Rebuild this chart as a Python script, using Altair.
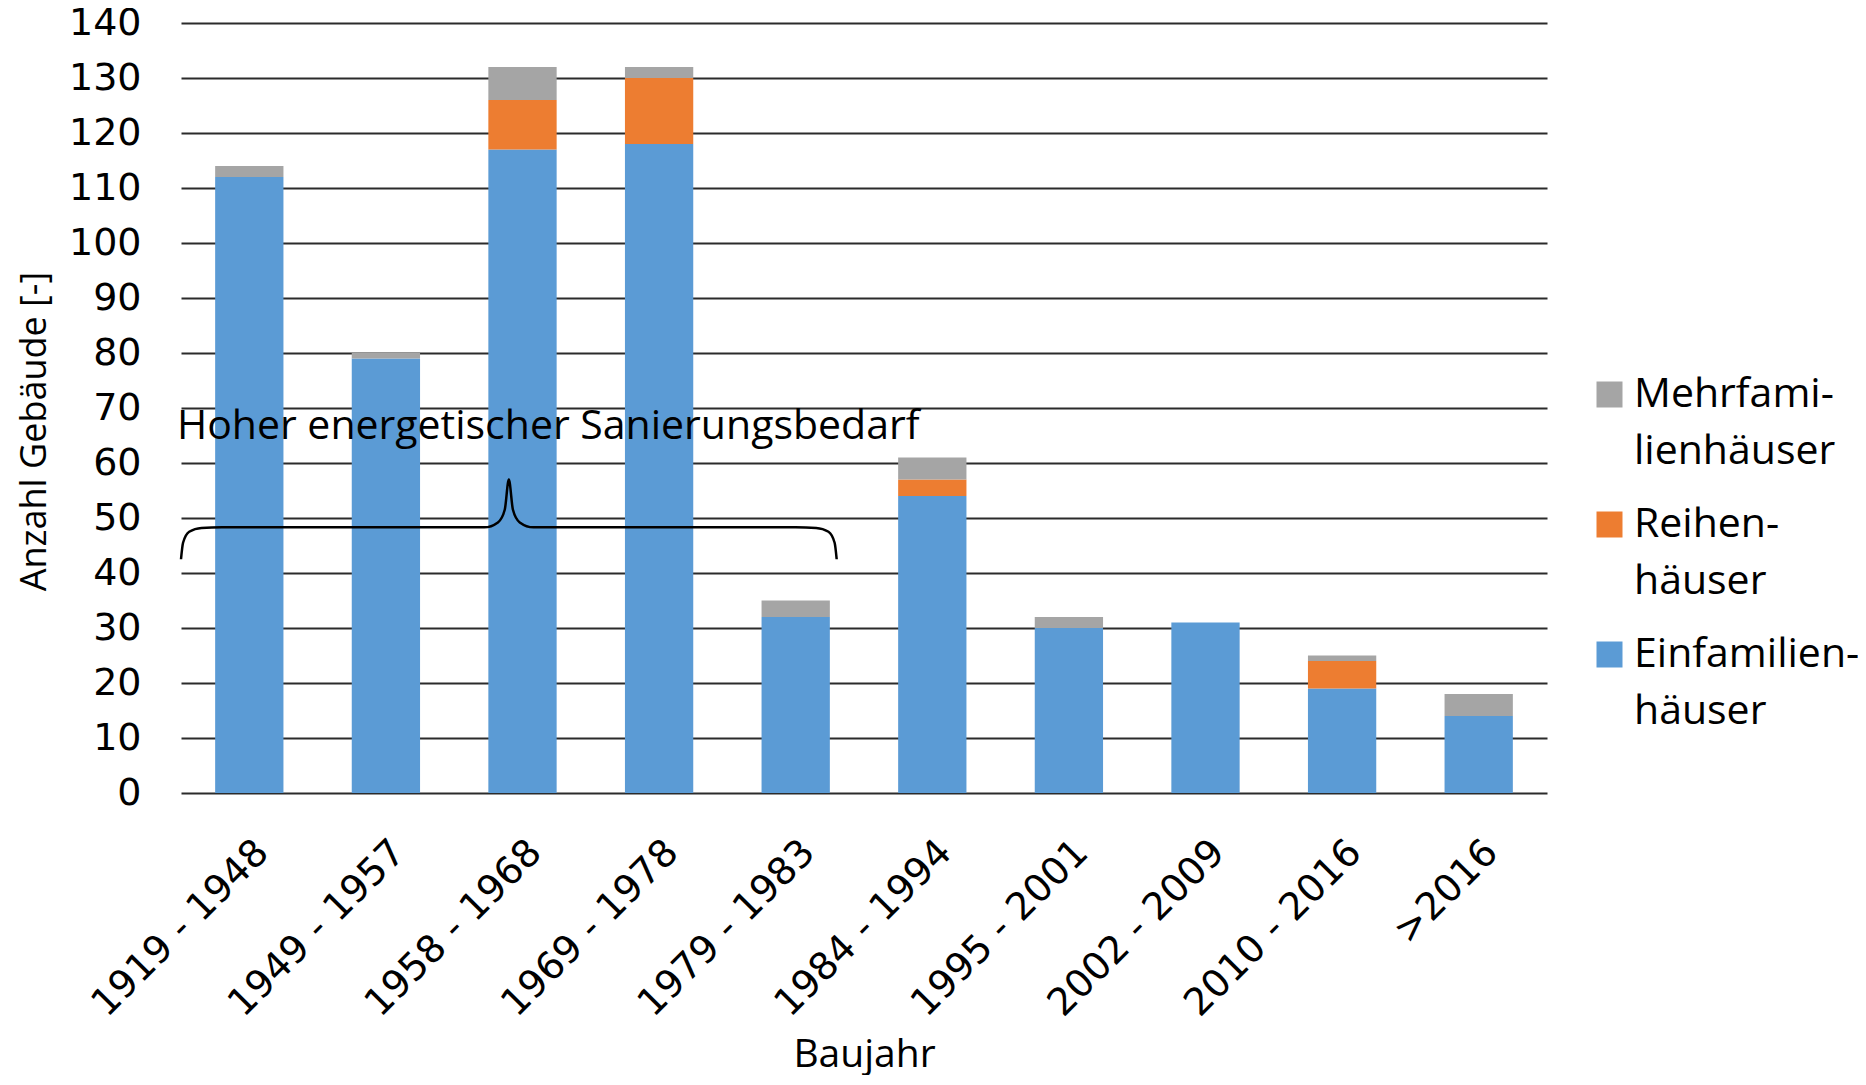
import altair as alt
import pandas as pd

categories = ["1919 - 1948", "1949 - 1957", "1958 - 1968", "1969 - 1978", "1979 - 1983",
              "1984 - 1994", "1995 - 2001", "2002 - 2009", "2010 - 2016", ">2016"]
einfamilien = [112, 79, 117, 118, 32, 54, 30, 31, 19, 14]
reihen = [0, 0, 9, 12, 0, 3, 0, 0, 5, 0]
mehrfamilien = [2, 1, 6, 2, 3, 4, 2, 0, 1, 4]
series = ["Mehrfami-|lienhäuser", "Reihen-|häuser", "Einfamilien-|häuser"]
colors = ["#A5A5A5", "#ED7D31", "#5B9BD5"]

# curly brace annotation (x in category steps, y in data units)
brace_x = [0.0, 0.015, 0.06, 0.15, 0.3, 2.22, 2.32, 2.37, 2.40, 2.43, 2.48, 2.58,
           4.5, 4.65, 4.74, 4.785, 4.80]
brace_y = [42.5, 45.5, 47.5, 48.2, 48.3, 48.3, 49.2, 51.5, 57.0, 51.5, 49.2, 48.3,
           48.3, 48.2, 47.5, 45.5, 42.5]
annotation = "Hoher energetischer Sanierungsbedarf"
annotation_x = [-0.03]
annotation_y = [66.5]

rows = []
for i, c in enumerate(categories):
    rows.append({"Baujahr": c, "series": series[2], "value": einfamilien[i], "ord": 0})
    rows.append({"Baujahr": c, "series": series[1], "value": reihen[i], "ord": 1})
    rows.append({"Baujahr": c, "series": series[0], "value": mehrfamilien[i], "ord": 2})
df = pd.DataFrame(rows)
brace_df = pd.DataFrame({"bx": brace_x, "value": brace_y, "i": list(range(len(brace_x)))})
text_df = pd.DataFrame({"bx": annotation_x, "value": annotation_y, "t": [annotation]})

TEXTFONT = "Open Sans"
NUMFONT = "DejaVu Sans"
yscale = alt.Scale(domain=[0, 140], nice=False)
yaxis = alt.Axis(values=list(range(0, 141, 10)), title="Anzahl Gebäude [-]",
                 domain=False, ticks=False, labelPadding=40, labelFontSize=38,
                 labelFont=NUMFONT, titleFont=TEXTFONT,
                 titleFontSize=36, titleFontWeight="normal", titleX=-147, titleY=408,
                 titleBaseline="middle", gridColor="#2b2b2b", gridWidth=2,
                 labelColor="black", titleColor="black")
qx = alt.Scale(domain=[0, 10], nice=False, zero=False)

legend = alt.Legend(title=None, orient="none", legendX=1408, legendY=351, padding=0,
                    symbolType="square", symbolSize=676, symbolStrokeWidth=0,
                    symbolOpacity=1, labelOffset=4, labelFontSize=41,
                    labelFont=TEXTFONT, labelLimit=500, labelColor="black",
                    rowPadding=31, labelExpr="split(datum.label, '|')")

bars = alt.Chart(df).mark_bar().encode(
    x=alt.X("Baujahr:N", sort=categories,
            scale=alt.Scale(paddingInner=0.5, paddingOuter=0.25),
            axis=alt.Axis(title="Baujahr", labelAngle=-45, labelFontSize=38,
                          labelFont=NUMFONT, titleFont=TEXTFONT, labelLimit=600,
                          labelPadding=40, domain=False, ticks=False,
                          titleFontSize=39, titleFontWeight="normal", titleY=273,
                          titleBaseline="alphabetic", labelColor="black",
                          titleColor="black")),
    y=alt.Y("value:Q", stack="zero", scale=yscale, axis=yaxis),
    color=alt.Color("series:N", scale=alt.Scale(domain=series, range=colors),
                    legend=legend),
    order=alt.Order("ord:Q"),
)
brace = alt.Chart(brace_df).mark_line(color="black", strokeWidth=2.5,
                                      interpolate="monotone").encode(
    x=alt.X("bx:Q", scale=qx, axis=None),
    y=alt.Y("value:Q", scale=yscale, axis=yaxis),
    order=alt.Order("i:Q"),
)
text = alt.Chart(text_df).mark_text(align="left", baseline="middle", fontSize=41,
                                    font=TEXTFONT, color="black").encode(
    x=alt.X("bx:Q", scale=qx, axis=None),
    y=alt.Y("value:Q", scale=yscale, axis=yaxis),
    text="t:N",
)
chart = alt.layer(bars, brace, text).resolve_scale(x="independent").properties(
    width=1366, height=770,
    padding={"left": 173, "top": 15, "right": 311, "bottom": 282},
    autosize=alt.AutoSizeParams(type="none"),
).configure(style={"guide-label": {"lineHeight": 57}}).configure_view(stroke=None)

chart.save("out.html", embed_options={"renderer": "svg", "actions": False})
